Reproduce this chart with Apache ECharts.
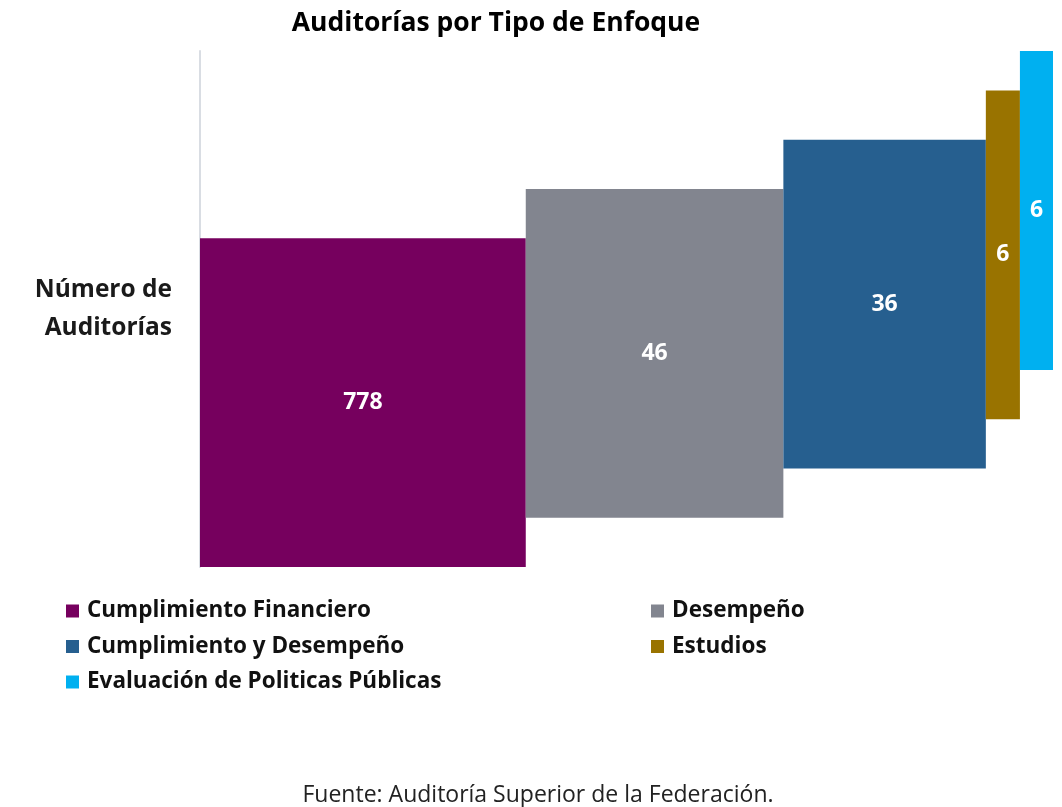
<!DOCTYPE html>
<html>
<head>
<meta charset="utf-8">
<script src="https://cdn.jsdelivr.net/npm/echarts@6/dist/echarts.min.js"></script>
<style>
html,body{margin:0;padding:0;background:#fff;}
#chart{width:1062px;height:807px;}
</style>
</head>
<body>
<div id="chart"></div>
<script>
// ---- data ----
const categories = ['Cumplimiento Financiero', 'Desempeño', 'Cumplimiento y Desempeño', 'Estudios', 'Evaluación de Politicas Públicas'];
const values = [778, 46, 36, 6, 6];
// drawn length of each segment along the horizontal axis (the source chart does not scale them to the values)
const barLengths = [325, 257, 202, 34, 33];
const rowLabel = ['Número de\nAuditorías'];
const titleText = 'Auditorías por Tipo de Enfoque';
const sourceText = 'Fuente: Auditoría Superior de la Federación.';

const colors = ['#76005E', '#82858F', '#265F8F', '#997300', '#00B0F0'];
const FONT = '"Open Sans", "Liberation Sans", sans-serif';
const STEP = 9.55;    // vertical shift between consecutive segments (y units)
const HEIGHT = 63.7;  // segment height (y units)

const totalLen = barLengths.reduce((a, b) => a + b, 0);
const starts = [];
let acc = 0;
barLengths.forEach(l => { starts.push(acc); acc += l; });

const series = categories.map((name, i) => ({
  name: name,
  type: 'custom',
  xAxisIndex: 0,
  yAxisIndex: 1,
  itemStyle: { color: colors[i] },
  data: [[starts[i], barLengths[i], values[i]]],
  renderItem: function (params, api) {
    const s = api.value(0);
    const e = s + api.value(1);
    const yb = i * STEP;
    const yt = yb + HEIGHT;
    const p0 = api.coord([s, yt]);
    const p1 = api.coord([e, yb]);
    const rect = echarts.graphic.clipRectByRect(
      { x: p0[0], y: p0[1], width: p1[0] - p0[0], height: p1[1] - p0[1] },
      { x: params.coordSys.x, y: params.coordSys.y, width: params.coordSys.width, height: params.coordSys.height }
    );
    if (!rect) return;
    return {
      type: 'rect',
      shape: rect,
      style: { fill: colors[i] },
      textContent: {
        style: {
          text: String(api.value(2)),
          fill: '#ffffff',
          font: 'bold 23px ' + FONT
        }
      },
      textConfig: { position: 'inside' }
    };
  }
}));

const legendText = { fontFamily: FONT, fontWeight: 'bold', fontSize: 22.5, lineHeight: 24, color: '#111', padding: [0, 0, 0, 3] };

const chart = echarts.init(document.getElementById('chart'), null, { renderer: 'canvas' });
chart.setOption({
  animation: false,
  backgroundColor: '#ffffff',
  title: [
    {
      text: titleText, left: 491, top: 5, textAlign: 'center',
      textStyle: { fontFamily: FONT, fontWeight: 'bold', fontSize: 26.5, color: '#000' }
    },
    {
      text: sourceText, left: 533, top: 779, textAlign: 'center',
      textStyle: { fontFamily: FONT, fontWeight: 'normal', fontSize: 23, color: '#222' }
    }
  ],
  grid: { left: 200, right: 9, top: 51, bottom: 240, containLabel: false },
  xAxis: { type: 'value', min: 0, max: totalLen, show: false },
  yAxis: [
    {
      type: 'category', data: rowLabel, position: 'left',
      axisLine: { show: true, lineStyle: { color: '#D9DDE3', width: 2 } },
      axisTick: { show: false },
      axisLabel: { margin: 28, fontFamily: FONT, fontWeight: 'bold', fontSize: 24.5, lineHeight: 38, color: '#1a1a1a', align: 'right', padding: [0, 0, 7, 0] },
      splitLine: { show: false }
    },
    { type: 'value', min: 0, max: 100, show: false }
  ],
  legend: [
    {
      data: [categories[0], categories[2], categories[4]],
      orient: 'vertical', left: 66, top: 599, itemGap: 11.5, padding: 0,
      icon: 'rect', itemWidth: 13, itemHeight: 13,
      textStyle: legendText
    },
    {
      data: [categories[1], categories[3]],
      orient: 'vertical', left: 651, top: 599, itemGap: 11.5, padding: 0,
      icon: 'rect', itemWidth: 13, itemHeight: 13,
      textStyle: legendText
    }
  ],
  series: series
});
</script>
</body>
</html>
